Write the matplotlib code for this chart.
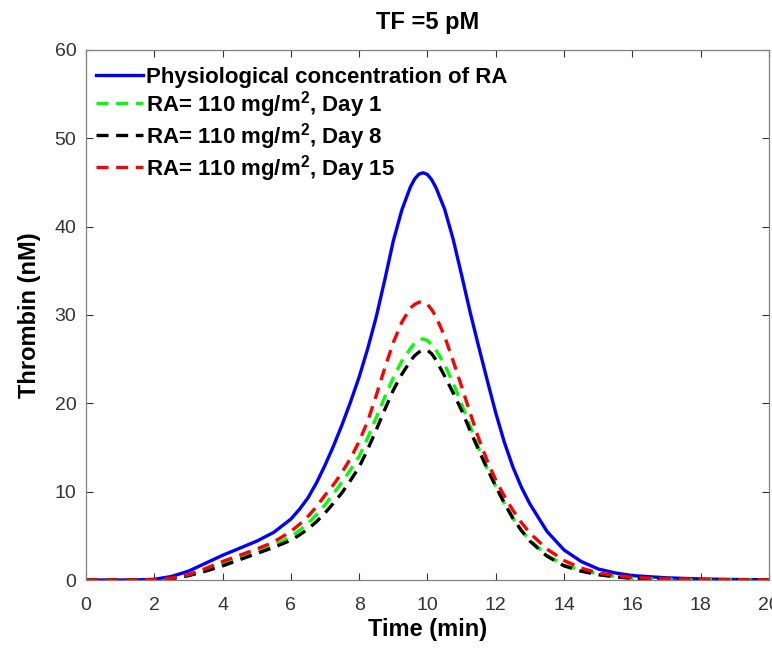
import numpy as np
import matplotlib
matplotlib.use('Agg')
import matplotlib.pyplot as plt

plt.rcParams['font.family'] = ['Liberation Sans', 'DejaVu Sans']
plt.rcParams['mathtext.fontset'] = 'custom'
plt.rcParams['mathtext.rm'] = 'Liberation Sans'
plt.rcParams['mathtext.bf'] = 'Liberation Sans:bold'

# time points (min)
t = [0, 0.5, 1, 1.5, 2, 2.5, 3, 3.5, 4, 4.5, 5, 5.5, 6,
     6.25, 6.5, 6.75, 7, 7.25, 7.5, 7.75, 8,
     8.25, 8.5, 8.75, 9, 9.25, 9.5,
     9.625, 9.75, 9.875, 10,
     10.125, 10.25, 10.5, 10.75, 11,
     11.25, 11.5, 11.75, 12,
     12.25, 12.5, 12.75, 13,
     13.5, 14, 14.5, 15, 15.5, 16,
     17, 18, 19, 20]

# thrombin (nM)
physio = [0, 0, 0, 0.02, 0.08, 0.4, 1.0, 1.9, 2.8, 3.6, 4.4, 5.4, 6.9,
          8.0, 9.3, 11.0, 13.0, 15.2, 17.6, 20.2, 23.0,
          26.2, 29.8, 34.0, 38.4, 41.9, 44.5,
          45.4, 45.95, 46.1, 45.9,
          45.3, 44.4, 42.0, 38.6, 34.5,
          30.3, 26.4, 22.6, 18.9,
          15.6, 12.8, 10.5, 8.6,
          5.5, 3.4, 2.1, 1.25, 0.8, 0.5,
          0.25, 0.12, 0.06, 0.03]
day1 = [0, 0, 0, 0.01, 0.04, 0.15, 0.5, 1.1, 1.8, 2.5, 3.2, 3.9, 4.9,
        5.6, 6.4, 7.4, 8.5, 9.8, 11.1, 12.5, 14.0,
        16.1, 18.4, 20.7, 22.9, 24.8, 26.2,
        26.8, 27.2, 27.3, 27.1,
        26.6, 26.0, 24.4, 22.3, 19.9,
        17.4, 14.9, 12.6, 10.6,
        8.7, 7.0, 5.6, 4.5,
        2.8, 1.7, 1.1, 0.7, 0.4, 0.2,
        0.08, 0.04, 0.02, 0.01]
day8 = [0, 0, 0, 0.01, 0.04, 0.15, 0.5, 1.0, 1.6, 2.3, 3.0, 3.7, 4.5,
        5.1, 5.8, 6.6, 7.6, 8.7, 9.9, 11.3, 12.8,
        14.8, 17.0, 19.3, 21.5, 23.3, 24.8,
        25.4, 25.8, 26.0, 26.0,
        25.6, 24.9, 23.1, 21.2, 19.2,
        16.9, 14.7, 12.6, 10.6,
        8.7, 7.0, 5.6, 4.4,
        2.7, 1.6, 1.0, 0.6, 0.35, 0.2,
        0.08, 0.04, 0.02, 0.01]
day15 = [0, 0, 0, 0.01, 0.05, 0.2, 0.6, 1.3, 2.1, 2.8, 3.5, 4.3, 5.5,
         6.3, 7.2, 8.3, 9.6, 10.8, 12.2, 13.8, 15.7,
         18.0, 20.9, 24.0, 26.9, 29.2, 30.8,
         31.2, 31.45, 31.45, 31.2,
         30.6, 29.8, 27.6, 24.8, 21.9,
         18.9, 16.0, 13.5, 11.3,
         9.5, 7.9, 6.5, 5.3,
         3.5, 2.2, 1.35, 0.8, 0.5, 0.3,
         0.12, 0.06, 0.03, 0.01]

fig = plt.figure(figsize=(7.72, 6.48), dpi=100)
ax = fig.add_axes([0.1114, 0.1049, 0.8847, 0.818])

lw = 2.4
dash = (3.6, 2.3)
ax.plot(t, physio, color='#0000ff', lw=lw, label='Physiological concentration of RA')
ax.plot(t, day1, color='#00ff00', lw=lw, dashes=dash,
        label=r'RA= 110 mg/m$^{\mathbf{2}}$, Day 1')
ax.plot(t, day8, color='black', lw=lw, dashes=dash,
        label=r'RA= 110 mg/m$^{\mathbf{2}}$, Day 8')
ax.plot(t, day15, color='#ff0000', lw=lw, dashes=dash,
        label=r'RA= 110 mg/m$^{\mathbf{2}}$, Day 15')

ax.set_xlim(0, 20)
ax.set_ylim(0, 60)
ax.set_xticks(np.arange(0, 21, 2))
ax.set_yticks(np.arange(0, 61, 10))
ax.tick_params(direction='in', length=5, width=0.8, top=True, right=True,
               labelsize=14, colors='#333333')
ax.tick_params(axis='x', pad=12)
ax.tick_params(axis='y', pad=7)
for s in ax.spines.values():
    s.set_color('#808080')
    s.set_linewidth(0.9)

ax.set_title('TF =5 pM', fontsize=17, fontweight='bold', pad=15)
ax.set_xlabel('Time (min)', fontsize=17, fontweight='bold', labelpad=3)
ax.set_ylabel('Thrombin (nM)', fontsize=17, fontweight='bold', labelpad=10)

ax.legend(loc='upper left', bbox_to_anchor=(-0.01, 1.0), frameon=False,
          prop={'weight': 'bold', 'size': 16},
          handlelength=2.1, handletextpad=0.15, labelspacing=0.05,
          borderaxespad=0.45, borderpad=0.3)

fig.savefig('out.png', dpi=100)
